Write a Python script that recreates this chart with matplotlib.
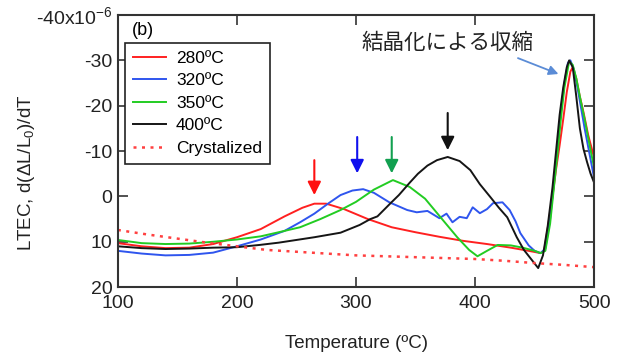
import numpy as np
import matplotlib.pyplot as plt

plt.rcParams['font.family'] = ['Liberation Sans', 'DejaVu Sans']
plt.rcParams['mathtext.fontset'] = 'custom'
plt.rcParams['mathtext.rm'] = 'Liberation Sans'
plt.rcParams['mathtext.it'] = 'Liberation Sans:italic'

# 280ºC
t_280 = [100, 120, 140, 160, 180, 200, 220, 240, 255, 265, 275, 290, 310, 330, 350, 370, 390,
         410, 430, 445, 455, 458, 461, 465, 468, 471, 474, 477, 480, 482, 485, 488, 491, 495, 500]
v_280 = [10.3, 11.0, 11.4, 11.3, 10.5, 9.0, 7.2, 4.4, 2.5, 1.6, 1.6, 2.8, 5.0, 6.8, 7.9, 8.9, 9.8,
         10.5, 11.3, 12.0, 12.5, 12.0, 7.0, 0.0, -6.0, -11.3, -17.0, -23.0, -27.5, -28.5, -26.0,
         -22.0, -18.6, -13.5, -8.5]

# 320ºC
t_320 = [100, 120, 140, 160, 180, 200, 220, 240, 253, 265, 277, 287, 297, 306, 315, 328, 343, 351,
         360, 370, 376, 381, 387, 393, 398, 404, 410, 415, 423, 429, 434, 438, 445, 450, 455, 459,
         463, 466, 469, 472, 475, 478, 480, 483, 486, 489, 492, 496, 500]
v_320 = [12.0, 12.6, 13.0, 12.9, 12.4, 11.0, 9.5, 7.6, 5.7, 3.8, 1.5, -0.3, -1.3, -1.6, -0.8, 1.3,
         3.0, 3.5, 3.2, 4.8, 3.8, 5.7, 4.5, 4.8, 2.4, 3.7, 2.8, 1.5, 1.3, 3.0, 5.5, 8.1, 10.8, 12.0,
         12.5, 11.5, 5.0, -2.5, -10.0, -18.6, -25.0, -29.5, -30.0, -28.0, -24.0, -19.5, -15.0,
         -9.5, -4.0]

# 350ºC
t_350 = [100, 120, 140, 160, 180, 200, 220, 240, 253, 270, 287, 300, 315, 331, 345, 358, 371, 385,
         395, 402, 410, 419, 430, 440, 450, 455, 459, 463, 466, 469, 472, 475, 479, 482, 485, 488,
         492, 496, 500]
v_350 = [9.6, 10.3, 10.5, 10.4, 10.0, 9.5, 8.8, 7.6, 6.8, 5.0, 3.0, 1.2, -1.5, -3.6, -2.1, 0.5,
         4.6, 9.0, 11.8, 13.2, 12.0, 10.7, 10.8, 11.3, 12.0, 12.5, 12.0, 6.0, -1.5, -9.0, -17.0,
         -24.0, -29.8, -29.0, -26.0, -22.0, -17.0, -11.5, -6.3]

# 400ºC
t_400 = [100, 120, 140, 160, 180, 200, 219, 235, 250, 265, 276, 287, 303, 312, 318, 329, 336, 345,
         352, 360, 368, 377, 387, 396, 404, 413, 420, 427, 435, 441, 447, 453, 457, 461, 465, 468,
         471, 474, 477, 479, 482, 485, 488, 491, 494, 497, 500]
v_400 = [11.0, 11.4, 11.6, 11.5, 11.3, 11.2, 10.7, 10.2, 9.6, 9.0, 8.5, 8.0, 6.3, 5.0, 4.4, 1.5,
         -0.3, -3.0, -5.0, -6.8, -8.0, -8.7, -7.8, -5.8, -2.7, 0.2, 2.5, 4.6, 9.0, 11.8, 13.8, 15.8,
         13.0, 6.5, -2.0, -10.0, -18.0, -24.0, -28.5, -30.0, -28.5, -22.0, -15.0, -10.5, -7.6,
         -5.0, -3.0]

# Crystalized
t_cry = [100, 125, 150, 175, 200, 225, 250, 275, 300, 325, 350, 375, 400, 425, 450, 475, 500]
v_cry = [7.4, 8.4, 9.3, 10.2, 11.0, 11.8, 12.2, 12.6, 13.0, 13.2, 13.4, 13.6, 13.8, 14.2, 14.7,
         15.1, 15.6]

# arrows marking the peaks: x, top, tip
arrow_x = [265, 301, 330, 377]
arrow_top = [-8.0, -13.1, -13.1, -18.4]
arrow_tip = [-0.3, -5.1, -5.1, -10.2]
arrow_colors = ['#ff1010', '#1010ee', '#12a050', '#111111']

yticks = [-40, -30, -20, -10, 0, 10, 20]
yticklabels = ['-40x10$^{-6}$', '-30', '-20', '-10', '0', '10', '20']
xticks = [100, 200, 300, 400, 500]

fig = plt.figure(figsize=(6.17, 3.58), dpi=100)
ax = fig.add_axes([0.191, 0.198, 0.772, 0.760])

ax.plot(t_280, v_280, color='#ff2020', lw=1.4, label='280ºC')
ax.plot(t_320, v_320, color='#2f55ee', lw=1.4, label='320ºC')
ax.plot(t_350, v_350, color='#22cc22', lw=1.4, label='350ºC')
ax.plot(t_400, v_400, color='#151515', lw=1.4, label='400ºC')
ax.plot(t_cry, v_cry, color='#ff4040', lw=1.8, ls=(0, (1.2, 2.2)), label='Crystalized')

for x, y0, y1, c in zip(arrow_x, arrow_top, arrow_tip, arrow_colors):
    ax.annotate('', xy=(x, y1), xytext=(x, y0),
                arrowprops=dict(arrowstyle='-|>', color=c, lw=1.5, mutation_scale=20,
                                shrinkA=0, shrinkB=0))

ax.annotate('', xy=(470, -27.0), xytext=(436, -30.5),
            arrowprops=dict(arrowstyle='-|>', color='#5b8cd6', lw=1.3, mutation_scale=14,
                            shrinkA=0, shrinkB=0))
ax.text(376.5, -33.8, '結晶化による収縮', fontsize=15.5, ha='center', va='center',
        family=['Noto Sans CJK JP', 'DejaVu Sans'], color='#222222')

ax.text(0.03, 0.945, '(b)', transform=ax.transAxes, fontsize=13, ha='left', va='center')

ax.set_xlim(100, 500)
ax.set_ylim(20, -40)
ax.set_xticks(xticks)
ax.set_yticks(yticks)
ax.set_yticklabels(yticklabels)
ax.tick_params(direction='in', length=7, width=1.2, top=True, right=True,
               labelsize=14, colors='#333333', labelcolor='#222222')
ax.tick_params(axis='x', pad=6)
ax.tick_params(axis='y', pad=4)

for s in ax.spines.values():
    s.set_linewidth(1.5)
    s.set_color('#333333')

ax.set_xlabel('Temperature (ºC)', fontsize=13.5, color='#222222')
ax.xaxis.set_label_coords(0.5, -0.175)
ax.set_ylabel('LTEC, d(ΔL/L$_0$)/dT', fontsize=13.5, color='#222222')
ax.yaxis.set_label_coords(-0.17, 0.42)

leg = ax.legend(loc='upper left', bbox_to_anchor=(0.0147, 0.897), borderaxespad=0,
                fontsize=12.5, handlelength=1.9, labelspacing=0.42, handletextpad=0.6,
                borderpad=0.45, fancybox=False, framealpha=1)
leg.get_frame().set_edgecolor('#222222')
leg.get_frame().set_linewidth(1.2)

fig.savefig('out.png', dpi=100)
